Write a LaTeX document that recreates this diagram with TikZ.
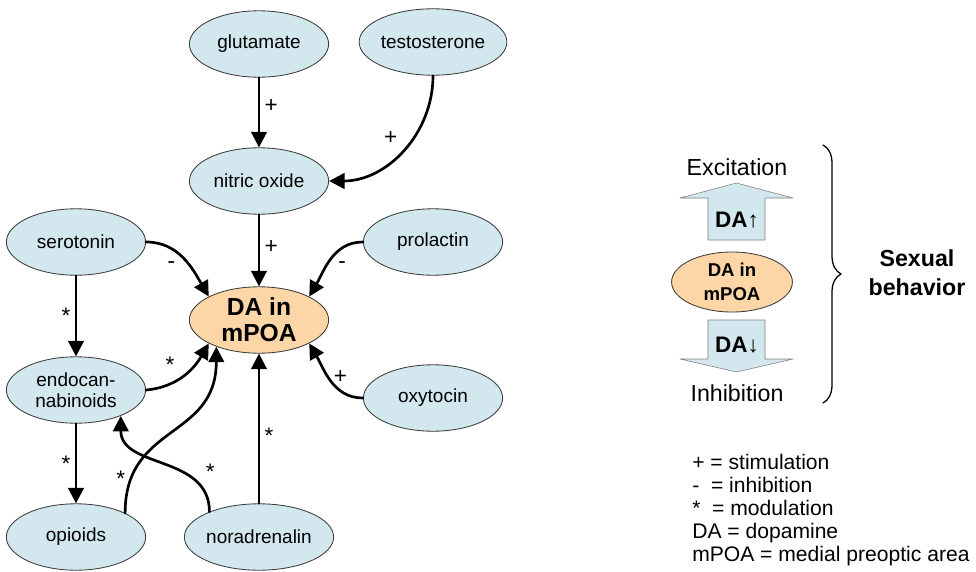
\documentclass[tikz,border=0pt]{standalone}
\usepackage{fontspec}
\setmainfont{Liberation Sans}
\usetikzlibrary{arrows.meta,shapes.geometric,decorations.pathreplacing}
\definecolor{blobblue}{RGB}{210,232,238}
\definecolor{blobpeach}{RGB}{252,214,166}
\definecolor{rimgray}{RGB}{60,60,60}
\begin{document}
\begin{tikzpicture}[x=0.025cm, y=0.025cm, line join=round, line cap=round,
	blob/.style={ellipse, draw=rimgray, line width=0.6pt, fill=blobblue, minimum width=3.48cm, minimum height=1.66cm, inner sep=0pt, align=center, font=\fontsize{13.5}{15}\selectfont},
	link/.style={line width=1.9pt, -{Triangle[length=11pt,width=11pt]}},
	sign/.style={font=\fontsize{16}{17}\selectfont, inner sep=3pt}]
	\useasboundingbox (0,0) rectangle (976,-572);
	\foreach \nm/\x/\y/\txt in {glu/259/44/glutamate, tes/433/42/testosterone, nit/259/181/nitric oxide, ser/76/242/serotonin, pro/433/242/prolactin, endo/76/390/{endocan-\\nabinoids}, oxy/433/398/oxytocin, opi/76/537/opioids, nor/259/537/noradrenalin}
		\node[blob] (\nm) at (\x,-\y) {\txt};
	\node[blob, fill=blobpeach, font=\bfseries\fontsize{17.5}{18.5}\selectfont] (da) at (259,-320) {DA in\\mPOA};
	% pathways into DA
	\draw[link] (glu) -- node[sign, right, pos=0.4] {+} (nit);
	\draw[link] (tes.south) to[out=-90, in=0] node[sign, pos=0.5, above left] {+} (nit.east);
	\draw[link] (nit) -- node[sign, right, pos=0.45] {+} (da);
	\draw[link] (ser.east) to[out=0, in=120] node[sign, pos=0.45, below left] {-} (da.155);
	\draw[link] (pro.west) to[out=180, in=60] node[sign, pos=0.45, below right] {-} (da.25);
	\draw[link] (ser) -- node[sign, left] {*} (endo);
	\draw[link] (endo.east) to[out=5, in=-120] node[sign, pos=0.45, above left] {*} (da.205);
	\draw[link] (opi.26) .. controls +(0,90) and +(0,-93) .. node[sign, pos=0.15, left] {*} (da.212);
	\draw[link] (nor.153) .. controls +(0,57) and +(0,-53) .. node[sign, pos=0.2, above right] {*} (endo.-30);
	\draw[link] (nor) -- node[sign, right, pos=0.45] {*} (da);
	\draw[link] (endo) -- node[sign, left] {*} (opi);
	\draw[link] (oxy.west) to[out=180, in=-60] node[sign, pos=0.55, right] {+} (da.-25);
	% summary on the right
	\node[font=\fontsize{16.5}{18}\selectfont] (exc) at (737,-167) {Excitation};
	\draw[draw=gray, fill=blobblue] (708,-240) -- (708,-198) -- (680,-198) -- (736.5,-183) -- (793,-198) -- (765,-198) -- (765,-240) -- cycle;
	\node[font=\bfseries\fontsize{16}{18}\selectfont] (up) at (737,-220) {DA↑};
	\node[blob, fill=blobpeach, minimum width=3.02cm, minimum height=1.5cm, font=\bfseries\fontsize{13.2}{17}\selectfont] (da2) at (732,-282) {DA in\\mPOA};
	\draw[draw=gray, fill=blobblue] (708,-320) -- (765,-320) -- (765,-359) -- (793,-359) -- (736.5,-372) -- (680,-359) -- (708,-359) -- cycle;
	\node[font=\bfseries\fontsize{16}{18}\selectfont] (down) at (737,-345) {DA↓};
	\node[font=\fontsize{16.5}{18}\selectfont] (inh) at (737,-393) {Inhibition};
	\draw[line width=0.9pt, decorate, decoration={brace, amplitude=0.45cm}] (823,-145) -- (823,-403);
	\node[align=center, font=\bfseries\fontsize{16.5}{20.6}\selectfont] (sex) at (917,-273) {Sexual\\behavior};
	\node[anchor=north west, align=left, inner sep=0pt, font=\fontsize{15}{16.4}\selectfont] (key) at (692,-454) {+ = stimulation\\-\ \ = inhibition\\*\ \ = modulation\\DA = dopamine\\mPOA = medial preoptic area};
\end{tikzpicture}
\end{document}
